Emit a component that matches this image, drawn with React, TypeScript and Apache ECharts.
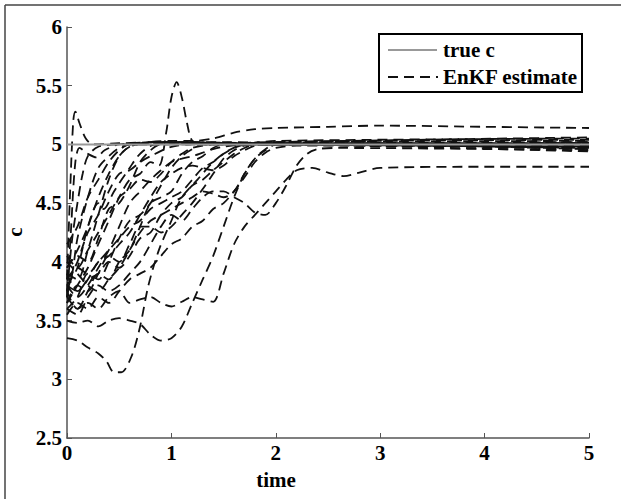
import { useEffect, useRef } from "react";
import * as echarts from "echarts";

type Pt = [number, number];

const timeTicks = [0, 1, 2, 3, 4, 5];
const cRange = [2.5, 6];
const legendNames = ["true c", "EnKF estimate"];

const trueC: Pt[] = [[0, 5], [5, 5]];

const member01: Pt[] = [[0, 3.85], [0.03, 4.6], [0.06, 5.2], [0.08, 5.28], [0.12, 5.18], [0.18, 5.05], [0.25, 5.0], [0.5, 5.01], [1, 5.02], [1.5, 5.02], [2, 5.01], [2.5, 5.0], [5, 5.0]];
const member02: Pt[] = [[0, 3.7], [0.04, 4.3], [0.08, 4.85], [0.12, 4.97], [0.2, 4.92], [0.28, 4.89], [0.36, 4.95], [0.5, 5.0], [1, 5.02], [2, 5.01], [5, 5.02]];
const member03: Pt[] = [[0, 3.75], [0.05, 3.9], [0.1, 4.2], [0.2, 4.55], [0.3, 4.8], [0.4, 4.9], [0.5, 4.97], [0.6, 5.0], [1, 5.02], [2, 5.0], [5, 4.98]];
const member04: Pt[] = [[0, 3.9], [0.1, 3.85], [0.2, 4.1], [0.3, 4.4], [0.4, 4.7], [0.5, 4.9], [0.6, 4.98], [0.8, 5.02], [2, 5.0], [5, 4.99]];
const member05: Pt[] = [[0, 3.8], [0.1, 3.95], [0.2, 4.3], [0.3, 4.5], [0.35, 4.45], [0.45, 4.6], [0.6, 4.8], [0.7, 4.92], [0.85, 5.0], [2, 5.0], [5, 5.01]];
const member06: Pt[] = [[0, 3.65], [0.1, 3.8], [0.2, 3.95], [0.3, 4.15], [0.4, 4.35], [0.5, 4.55], [0.6, 4.7], [0.7, 4.75], [0.8, 4.85], [0.88, 4.82], [0.95, 5.1], [1.0, 5.4], [1.05, 5.53], [1.1, 5.4], [1.15, 5.18], [1.2, 5.03], [1.3, 5.0], [2, 5.0], [5, 5.0]];
const member07: Pt[] = [[0, 3.95], [0.1, 4.05], [0.2, 4.0], [0.3, 4.2], [0.4, 4.45], [0.5, 4.5], [0.6, 4.65], [0.7, 4.85], [0.8, 4.95], [0.9, 5.0], [2, 5.01], [5, 5.0]];
const member08: Pt[] = [[0, 3.6], [0.1, 3.7], [0.2, 3.9], [0.3, 3.85], [0.4, 4.0], [0.5, 4.2], [0.6, 4.35], [0.7, 4.4], [0.8, 4.5], [0.9, 4.65], [1.0, 4.8], [1.1, 4.9], [1.2, 4.96], [1.3, 5.0], [2, 5.0], [5, 4.97]];
const member09: Pt[] = [[0, 3.7], [0.1, 3.6], [0.2, 3.75], [0.3, 3.9], [0.4, 3.85], [0.5, 4.0], [0.6, 4.1], [0.7, 4.3], [0.8, 4.5], [0.9, 4.55], [1.0, 4.6], [1.1, 4.75], [1.2, 4.85], [1.3, 4.9], [1.4, 4.97], [1.5, 5.0], [2, 5.0], [5, 5.02]];
const member10: Pt[] = [[0, 3.8], [0.1, 3.75], [0.2, 3.85], [0.3, 3.9], [0.4, 4.0], [0.5, 3.95], [0.6, 4.05], [0.7, 4.2], [0.8, 4.25], [0.9, 4.4], [1.0, 4.5], [1.1, 4.55], [1.2, 4.65], [1.3, 4.7], [1.4, 4.78], [1.5, 4.85], [1.6, 4.92], [1.7, 4.97], [1.8, 5.0], [2, 5.01], [5, 4.96]];
const member11: Pt[] = [[0, 3.35], [0.1, 3.33], [0.2, 3.27], [0.3, 3.22], [0.38, 3.15], [0.45, 3.06], [0.52, 3.06], [0.62, 3.2], [0.7, 3.45], [0.78, 3.8], [0.88, 4.1], [1.0, 4.35], [1.1, 4.55], [1.25, 4.7], [1.4, 4.85], [1.55, 4.95], [1.7, 5.0], [2, 5.0], [5, 4.98]];
const member12: Pt[] = [[0, 3.5], [0.1, 3.48], [0.2, 3.5], [0.3, 3.45], [0.4, 3.5], [0.5, 3.52], [0.6, 3.5], [0.7, 3.47], [0.8, 3.38], [0.9, 3.33], [1.0, 3.35], [1.1, 3.45], [1.2, 3.65], [1.3, 3.85], [1.4, 4.05], [1.5, 4.3], [1.6, 4.55], [1.7, 4.75], [1.8, 4.88], [1.9, 4.95], [2.0, 5.0], [2.5, 5.02], [5, 5.03]];
const member13: Pt[] = [[0, 3.75], [0.1, 3.6], [0.2, 3.65], [0.3, 3.6], [0.4, 3.7], [0.5, 3.75], [0.6, 3.65], [0.7, 3.68], [0.8, 3.7], [0.9, 3.65], [1.0, 3.62], [1.1, 3.66], [1.2, 3.7], [1.3, 3.68], [1.4, 3.66], [1.5, 3.9], [1.6, 4.15], [1.7, 4.3], [1.8, 4.4], [1.9, 4.5], [2.0, 4.6], [2.1, 4.7], [2.2, 4.78], [2.35, 4.8], [2.5, 4.76], [2.65, 4.73], [2.8, 4.76], [3.0, 4.8], [4, 4.81], [5, 4.81]];
const member14: Pt[] = [[0, 3.85], [0.1, 3.95], [0.2, 3.9], [0.3, 4.0], [0.4, 4.1], [0.5, 4.2], [0.6, 4.3], [0.7, 4.35], [0.8, 4.45], [0.9, 4.5], [1.0, 4.55], [1.1, 4.6], [1.2, 4.7], [1.3, 4.8], [1.4, 4.85], [1.5, 4.92], [1.6, 4.97], [1.7, 5.0], [2, 5.03], [5, 5.05]];
const member15: Pt[] = [[0, 4.0], [0.1, 3.9], [0.2, 3.8], [0.3, 3.75], [0.4, 3.85], [0.5, 3.95], [0.6, 4.1], [0.7, 4.25], [0.8, 4.35], [0.9, 4.4], [1.0, 4.45], [1.1, 4.5], [1.2, 4.55], [1.3, 4.6], [1.4, 4.58], [1.5, 4.55], [1.6, 4.6], [1.7, 4.75], [1.8, 4.88], [1.9, 4.96], [2.0, 5.0], [5, 4.97]];
const member16: Pt[] = [[0, 3.6], [0.1, 3.55], [0.2, 3.7], [0.3, 3.8], [0.4, 3.75], [0.5, 3.8], [0.6, 3.9], [0.7, 4.0], [0.8, 4.15], [0.9, 4.3], [1.0, 4.4], [1.1, 4.35], [1.2, 4.45], [1.3, 4.55], [1.4, 4.6], [1.5, 4.6], [1.6, 4.55], [1.7, 4.5], [1.8, 4.42], [1.9, 4.4], [2.0, 4.5], [2.1, 4.65], [2.2, 4.82], [2.3, 4.92], [2.4, 4.96], [2.6, 4.97], [5, 4.95]];
const member17: Pt[] = [[0, 3.95], [0.1, 4.1], [0.2, 4.3], [0.3, 4.55], [0.4, 4.75], [0.5, 4.9], [0.6, 4.98], [0.8, 5.02], [1.0, 5.03], [1.2, 5.03], [1.4, 5.05], [1.6, 5.1], [1.8, 5.13], [2.0, 5.14], [2.5, 5.15], [3, 5.16], [4, 5.15], [5, 5.14]];
const member18: Pt[] = [[0, 3.7], [0.05, 3.9], [0.1, 4.0], [0.2, 4.25], [0.3, 4.4], [0.4, 4.6], [0.5, 4.75], [0.6, 4.78], [0.7, 4.85], [0.8, 4.9], [1.0, 4.98], [1.2, 5.0], [5, 5.0]];
const member19: Pt[] = [[0, 4.15], [0.1, 4.3], [0.2, 4.55], [0.3, 4.7], [0.4, 4.85], [0.5, 4.95], [0.6, 5.0], [5, 5.01]];
const member20: Pt[] = [[0, 3.8], [0.1, 3.7], [0.2, 3.8], [0.3, 3.95], [0.4, 4.1], [0.5, 4.3], [0.6, 4.5], [0.7, 4.6], [0.8, 4.7], [0.9, 4.78], [1.0, 4.85], [1.1, 4.88], [1.2, 4.9], [1.3, 4.93], [1.4, 4.96], [1.5, 4.98], [1.7, 5.0], [5, 4.94]];
const member21: Pt[] = [[0, 3.9], [0.1, 3.75], [0.2, 3.85], [0.3, 4.0], [0.4, 4.05], [0.5, 4.15], [0.6, 4.25], [0.7, 4.4], [0.8, 4.55], [0.9, 4.68], [1.0, 4.75], [1.1, 4.8], [1.2, 4.82], [1.3, 4.8], [1.4, 4.78], [1.5, 4.82], [1.6, 4.9], [1.7, 4.95], [1.8, 4.99], [2.0, 5.02], [5, 5.04]];
const member22: Pt[] = [[0, 3.65], [0.1, 3.8], [0.2, 3.75], [0.3, 3.9], [0.4, 4.05], [0.5, 4.0], [0.6, 4.15], [0.7, 4.3], [0.8, 4.3], [0.9, 4.25], [1.0, 4.3], [1.1, 4.4], [1.2, 4.5], [1.3, 4.62], [1.4, 4.75], [1.5, 4.88], [1.6, 4.95], [1.7, 4.99], [2.0, 5.0], [5, 4.96]];
const member23: Pt[] = [[0, 4.05], [0.1, 3.95], [0.2, 4.1], [0.3, 4.25], [0.4, 4.4], [0.5, 4.55], [0.6, 4.62], [0.7, 4.7], [0.8, 4.68], [0.9, 4.75], [1.0, 4.85], [1.1, 4.92], [1.2, 4.97], [1.4, 5.0], [2, 5.02], [5, 5.06]];
const member24: Pt[] = [[0, 3.55], [0.1, 3.65], [0.2, 3.6], [0.3, 3.7], [0.4, 3.65], [0.5, 3.75], [0.6, 3.85], [0.7, 3.9], [0.8, 3.95], [0.9, 4.05], [1.0, 4.15], [1.1, 4.2], [1.2, 4.3], [1.3, 4.35], [1.4, 4.45], [1.5, 4.5], [1.6, 4.6], [1.7, 4.72], [1.8, 4.85], [1.9, 4.93], [2.0, 4.97], [2.2, 4.99], [5, 4.98]];
const member25: Pt[] = [[0, 3.75], [0.05, 4.2], [0.1, 4.5], [0.15, 4.75], [0.2, 4.9], [0.3, 4.98], [0.5, 5.0], [5, 5.01]];

const members: Pt[][] = [
  member01, member02, member03, member04, member05, member06, member07,
  member08, member09, member10, member11, member12, member13, member14,
  member15, member16, member17, member18, member19, member20, member21,
  member22, member23, member24, member25,
];

const FONT = "'Liberation Serif', 'Times New Roman', serif";

export default function App() {
  const ref = useRef<HTMLDivElement>(null);
  useEffect(() => {
    if (!ref.current) return;
    const chart = echarts.init(ref.current, null, { renderer: "svg" });
    const ensembleSeries = members.map((m) => ({
      type: "line",
      name: legendNames[1],
      data: m,
      showSymbol: false,
      smooth: 0.3,
      lineStyle: { color: "#111", width: 1.8, type: [10, 6] },
      z: 2,
    }));
    chart.setOption({
      animation: false,
      backgroundColor: "#fff",
      grid: { left: 67, right: 32, top: 27, bottom: 61, containLabel: false },
      xAxis: {
        type: "value",
        min: timeTicks[0],
        max: timeTicks[timeTicks.length - 1],
        interval: 1,
        axisLine: { show: true, lineStyle: { color: "#555", width: 1.5 } },
        axisTick: { show: true, inside: true, length: 5, lineStyle: { color: "#555", width: 1 } },
        axisLabel: { color: "#000", fontFamily: FONT, fontWeight: "bold", fontSize: 21, margin: 4 },
        splitLine: { show: false },
      },
      yAxis: {
        type: "value",
        min: cRange[0],
        max: cRange[1],
        interval: 0.5,
        axisLine: { show: true, lineStyle: { color: "#555", width: 1.5 } },
        axisTick: { show: true, inside: true, length: 5, lineStyle: { color: "#555", width: 1 } },
        axisLabel: { color: "#000", fontFamily: FONT, fontWeight: "bold", fontSize: 21, margin: 5 },
        splitLine: { show: false },
      },
      series: [
        ...ensembleSeries,
        {
          type: "line",
          name: legendNames[0],
          data: trueC,
          showSymbol: false,
          lineStyle: { color: "#999", width: 2, type: "solid" },
          z: 3,
        },
      ],
      graphic: [
        { type: "line", shape: { x1: 5, y1: 5, x2: 621, y2: 5 }, style: { stroke: "#444", lineWidth: 1.5 } },
        { type: "line", shape: { x1: 5, y1: 5, x2: 5, y2: 499 }, style: { stroke: "#444", lineWidth: 1.5 } },
        {
          type: "rect",
          shape: { x: 379, y: 34, width: 203, height: 58 },
          style: { fill: "#fff", stroke: "#000", lineWidth: 2 },
          z: 10,
        },
        { type: "line", shape: { x1: 388, y1: 50, x2: 437, y2: 50 }, style: { stroke: "#999", lineWidth: 2 }, z: 11 },
        { type: "line", shape: { x1: 388, y1: 77, x2: 438, y2: 77 }, style: { stroke: "#111", lineWidth: 1.8, lineDash: [10, 6] }, z: 11 },
        {
          type: "text",
          x: 443,
          y: 50,
          style: { text: legendNames[0], font: `bold 21px ${FONT}`, fill: "#000", verticalAlign: "middle" },
          z: 11,
        },
        {
          type: "text",
          x: 443,
          y: 77,
          style: { text: legendNames[1], font: `bold 21px ${FONT}`, fill: "#000", verticalAlign: "middle" },
          z: 11,
        },
        {
          type: "text",
          x: 276,
          y: 480,
          style: { text: "time", font: `bold 21px ${FONT}`, fill: "#000", align: "center", verticalAlign: "middle" },
        },
        {
          type: "text",
          x: 15,
          y: 232,
          rotation: Math.PI / 2,
          style: { text: "c", font: `bold 21px ${FONT}`, fill: "#000", align: "center", verticalAlign: "middle" },
        },
      ],
    });
    return () => chart.dispose();
  }, []);
  return (
    <div
      ref={ref}
      style={{ position: "fixed", left: 0, top: 0, width: 621, height: 499, background: "#fff" }}
    />
  );
}
